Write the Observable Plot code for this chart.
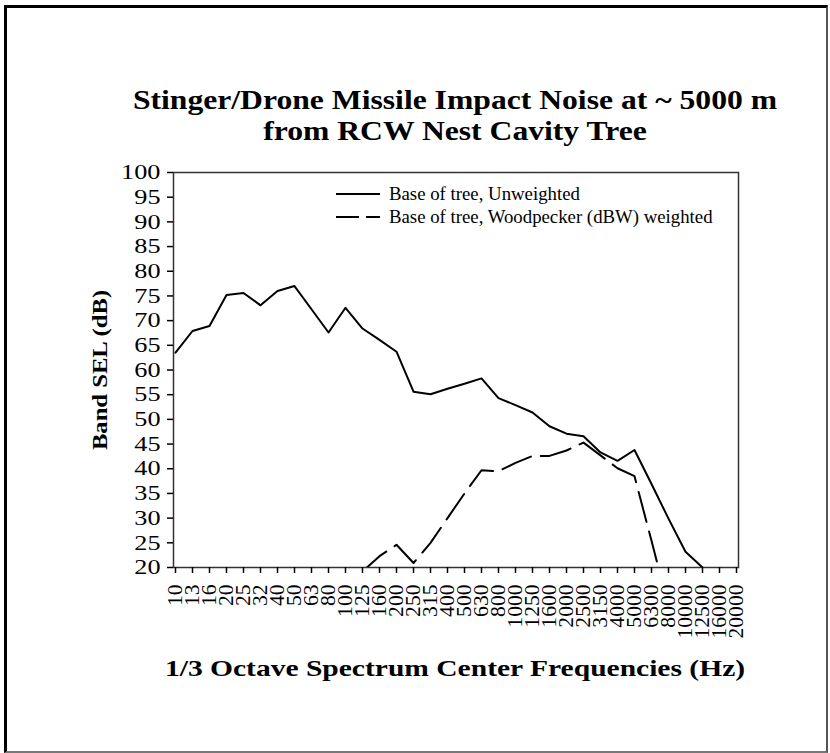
<!DOCTYPE html>
<html>
<head>
<meta charset="utf-8">
<script src="https://cdn.jsdelivr.net/npm/d3@7"></script>
<script src="https://cdn.jsdelivr.net/npm/@observablehq/plot@0.6"></script>
<style>
  html, body { margin: 0; padding: 0; background: #fff; }
  #page { position: relative; width: 830px; height: 753px; overflow: hidden; font-family: "Liberation Serif", "Times New Roman", serif; color: #000; }
  #border { position: absolute; left: 4px; top: 5px; width: 819px; height: 743px; border-left: 3px solid #000; border-top: 3px solid #000; border-right: 2px solid #555; border-bottom: 2px solid #777; }
  #chart { position: absolute; left: 0; top: 0; }
  #title { position: absolute; left: 455px; top: 115px; transform: translate(-50%, -50%) scaleX(1.13); text-align: center; white-space: nowrap; font-weight: bold; font-size: 28px; line-height: 31px; }
  #ylabel { position: absolute; left: 100px; top: 370px; transform: translate(-50%, -50%) rotate(-90deg) scaleX(1.12); white-space: nowrap; font-weight: bold; font-size: 22px; }
  #xlabel { position: absolute; left: 455px; top: 668px; transform: translate(-50%, -50%) scaleX(1.23); white-space: nowrap; font-weight: bold; font-size: 24px; }
  #legend { position: absolute; left: 336px; top: 182px; font-size: 18.8px; }
  .lg { display: flex; align-items: center; height: 23px; }
  .lg svg { margin-right: 9px; }
</style>
</head>
<body>
<div id="page">
  <div id="border"></div>
  <div id="chart"></div>
  <div id="title">Stinger/Drone Missile Impact Noise at ~ 5000 m<br>from RCW Nest Cavity Tree</div>
  <div id="ylabel">Band SEL (dB)</div>
  <div id="xlabel">1/3 Octave Spectrum Center Frequencies (Hz)</div>
  <div id="legend"></div>
</div>
<script>
// Category labels (1/3 octave center frequencies, Hz)
const categories = ["10","13","16","20","25","32","40","50","63","80","100","125","160","200","250","315","400","500","630","800","1000","1250","1600","2000","2500","3150","4000","5000","6300","8000","10000","12500","16000","20000"];
// Series values (dB)
const unweighted = [63.5,67.9,68.9,75.2,75.6,73.1,76.0,77.0,72.3,67.6,72.6,68.4,66.1,63.7,55.6,55.1,56.2,57.2,58.3,54.3,52.9,51.4,48.6,47.1,46.6,43.3,41.6,43.8,36.9,29.9,23.2,20.0,null,null];
const weighted = [null,null,null,null,null,null,null,null,null,null,null,19.2,22.3,24.6,20.9,25.0,30.0,35.0,39.7,39.5,41.2,42.6,42.6,43.7,45.3,42.7,40.1,38.5,25.4,12.0,null,null,null,null];
const seriesNames = ["Base of tree, Unweighted", "Base of tree, Woodpecker (dBW) weighted"];
const yTicks = [20,25,30,35,40,45,50,55,60,65,70,75,80,85,90,95,100];

const rows1 = categories.map((c, i) => ({f: c, v: unweighted[i]}));
const rows2 = categories.map((c, i) => ({f: c, v: weighted[i]}));

const W = 830, H = 753;
const chart = Plot.plot({
  width: W,
  height: H,
  marginLeft: 173,
  marginRight: 92,
  marginTop: 172,
  marginBottom: 186,
  style: {fontFamily: "Liberation Serif, Times New Roman, serif", fontSize: "20px", color: "#000", background: "transparent"},
  x: {type: "point", domain: categories, padding: 0},
  y: {domain: [20, 100]},
  marks: [
    Plot.frame({stroke: "#333", strokeWidth: 1.5}),
    Plot.axisY({ticks: yTicks, tickSize: 6, tickPadding: 7, tickFormat: d => String(d), label: null, fontSize: 21, strokeWidth: 1.5}),
    Plot.axisX({tickSize: 6, tickPadding: 11, tickRotate: -90, label: null, fontSize: 20, strokeWidth: 1.5}),
    Plot.line(rows1, {x: "f", y: "v", stroke: "#000", strokeWidth: 2, clip: true, defined: d => d.v != null}),
    Plot.line(rows2, {x: "f", y: "v", stroke: "#000", strokeWidth: 2, strokeDasharray: "31,10", clip: true, defined: d => d.v != null})
  ]
});
document.getElementById("chart").appendChild(chart);

// stretch tick labels along their baseline to mimic the reference's wide type
function stretch(sel, s) {
  chart.querySelectorAll(sel).forEach(t => {
    let tr = t.getAttribute("transform");
    if (!tr) {
      const x = +(t.getAttribute("x") || 0), y = +(t.getAttribute("y") || 0);
      t.removeAttribute("x"); t.removeAttribute("y");
      tr = `translate(${x},${y})`;
    }
    t.setAttribute("transform", `${tr} scale(${s},1)`);
  });
}
stretch('g[aria-label="y-axis tick label"] text', 1.25);
stretch('g[aria-label="x-axis tick label"] text', 1.08);

const lg = document.getElementById("legend");
seriesNames.forEach((name, i) => {
  const row = document.createElement("div");
  row.className = "lg";
  const dash = i === 0 ? "" : ' stroke-dasharray="23,7"';
  row.innerHTML = `<svg width="44" height="10"><line x1="0" y1="5" x2="44" y2="5" stroke="#000" stroke-width="2"${dash}/></svg><span>${name}</span>`;
  lg.appendChild(row);
});
</script>
</body>
</html>
